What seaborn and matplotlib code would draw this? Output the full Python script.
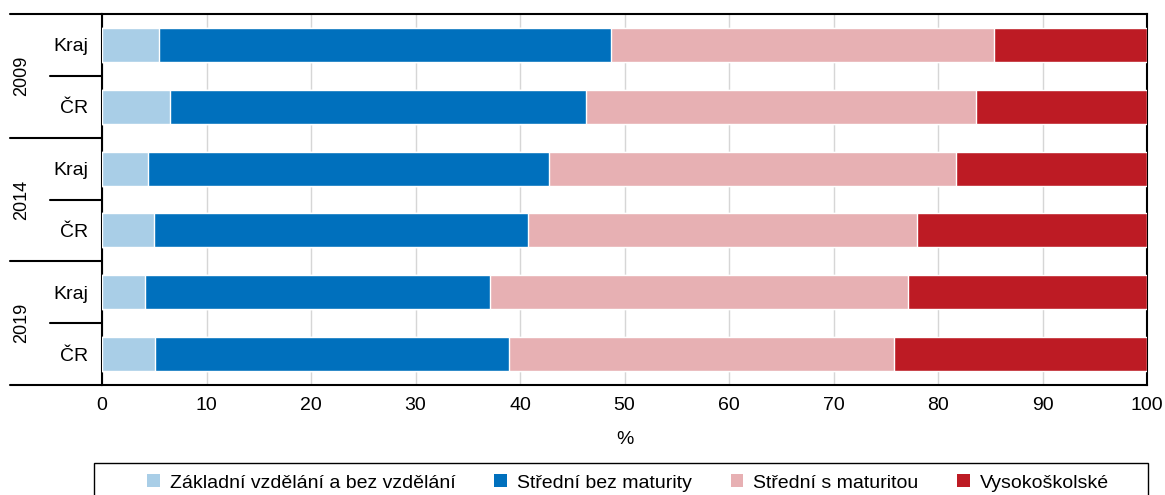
import matplotlib
matplotlib.use("Agg")
import matplotlib.pyplot as plt
import seaborn as sns
import pandas as pd
import numpy as np
from matplotlib.patches import Patch, Rectangle
import matplotlib.transforms as mtransforms

# data (% of population by education level)
rows = ["2009 Kraj", "2009 ČR", "2014 Kraj", "2014 ČR", "2019 Kraj", "2019 ČR"]
row_labels = ["Kraj", "ČR", "Kraj", "ČR", "Kraj", "ČR"]
years = ["2009", "2014", "2019"]
zakladni = [5.5, 6.5, 4.4, 5.0, 4.1, 5.1]
stredni_bez = [43.2, 39.8, 38.4, 35.8, 33.0, 33.8]
stredni_s = [36.7, 37.3, 38.9, 37.2, 40.0, 36.9]
vysokoskolske = [14.6, 16.4, 18.3, 22.0, 22.9, 24.2]

series = ["Základní vzdělání a bez vzdělání", "Střední bez maturity",
          "Střední s maturitou", "Vysokoškolské"]
colors = ["#a9cee7", "#0070bd", "#e7b0b3", "#bd1b24"]

sns.set_style("white")
plt.rcParams["font.family"] = ["Liberation Sans", "DejaVu Sans"]
plt.rcParams["font.size"] = 14
plt.rcParams["text.color"] = "black"
plt.rcParams["axes.labelcolor"] = "black"
plt.rcParams["xtick.color"] = "black"
plt.rcParams["ytick.color"] = "black"

df = pd.DataFrame({"row": rows, "z": zakladni, "sb": stredni_bez,
                   "ss": stredni_s, "v": vysokoskolske})
cum = df[["z", "sb", "ss", "v"]].cumsum(axis=1)

fig = plt.figure(figsize=(11.65, 4.95), dpi=100)
ax = fig.add_axes([102 / 1165, 1 - 385 / 495, 1045 / 1165, 371 / 495])

# stacked bars: draw cumulative totals from the largest down
for col, c in zip(["v", "ss", "sb", "z"], colors[::-1]):
    sns.barplot(x=cum[col], y=df["row"], color=c, orient="h", width=0.55,
                saturation=1, ax=ax, zorder=3)

ax.set_xlim(0, 100)
ax.set_ylim(5.5, -0.5)
ax.set_xticks(np.arange(0, 101, 10))
ax.xaxis.grid(True, color="#d6d6d6", linewidth=1.0, zorder=0)
ax.set_axisbelow(True)
ax.set_xlabel("%", labelpad=12)
ax.set_ylabel("")
ax.set_yticks(range(len(rows)))
ax.set_yticklabels(row_labels)
ax.tick_params(axis="y", length=0, pad=10)
ax.tick_params(axis="x", direction="inout", length=8, width=1.2, pad=5)
for s in ax.spines.values():
    s.set_color("black")
    s.set_linewidth(1.5)

# group separators and year labels on the left
trans = mtransforms.blended_transform_factory(ax.transAxes, ax.transData)
for yv in [-0.5, 1.5, 3.5, 5.5]:
    ax.plot([-0.088, 0], [yv, yv], color="black", lw=1.5, transform=trans, clip_on=False)
for yv in [0.5, 2.5, 4.5]:
    ax.plot([-0.05, 0], [yv, yv], color="black", lw=1.5, transform=trans, clip_on=False)
for i, yr in enumerate(years):
    ax.text(-0.077, 2 * i + 0.5, yr, rotation=90, ha="center", va="center",
            transform=trans, fontsize=13)

# legend: frameless entries inside a separately drawn box
handles = [Patch(facecolor=c, edgecolor="none", label=s) for s, c in zip(series, colors)]
fig.legend(handles=handles, ncol=4, loc="center",
           bbox_to_anchor=(628 / 1165, 1 - 483 / 495),
           frameon=False, fontsize=14,
           handlelength=0.65, handleheight=0.65, handletextpad=0.5,
           columnspacing=2.0)
fig.patches.append(Rectangle((94 / 1165, -0.05), (1148 - 94) / 1165, 0.05 + 1 - 463 / 495,
                             transform=fig.transFigure, fill=False,
                             edgecolor="black", linewidth=1.0))

fig.savefig("out.png", dpi=100)
